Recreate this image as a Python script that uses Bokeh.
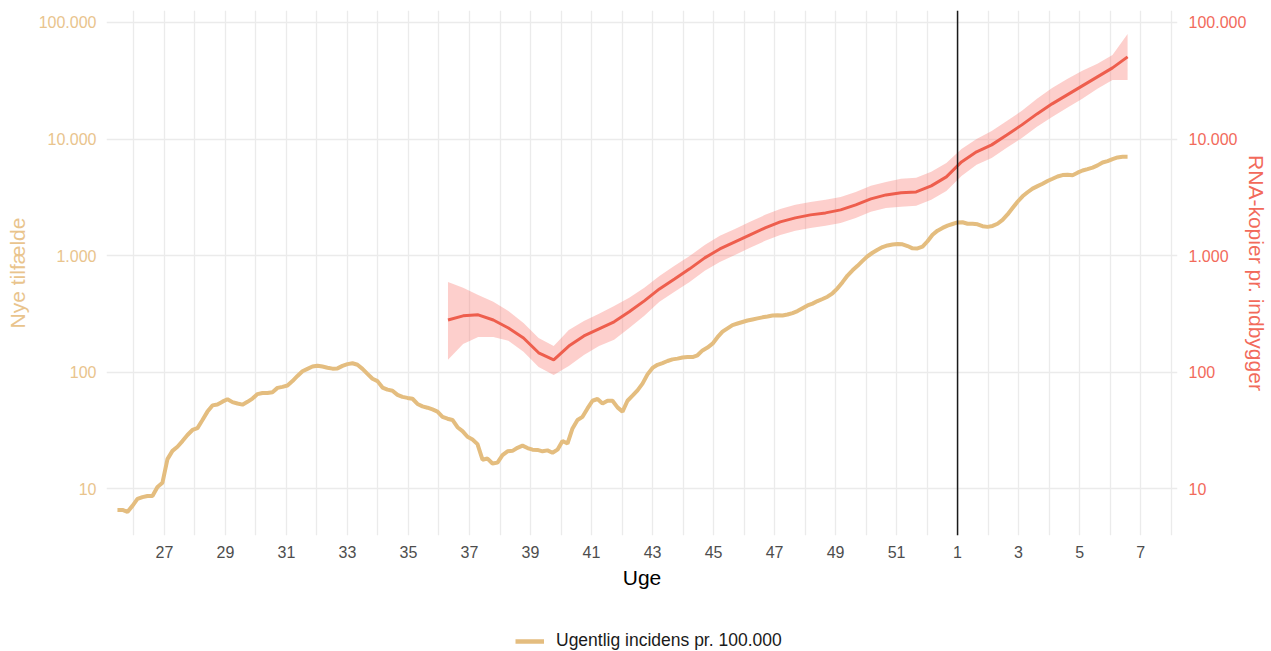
import numpy as np
from bokeh.plotting import figure
from bokeh.layouts import column
from bokeh.models import (Range1d, FixedTicker, LogAxis, CustomJSTickFormatter,
                          Span, Legend, LegendItem, ColumnDataSource)
from bokeh.embed import file_html
from bokeh.resources import INLINE

# ---------------- data ----------------
# weekly incidence per 100.000 (tan), sampled regularly from week ~25.5 to week 7 (=59)
tan_start_week = 25.459
tan_step_week = 0.16393
tan_values = [
    6.6, 6.6, 6.35, 7.15, 8.2, 8.5, 8.7, 8.7, 10.4, 11.3,
    18.0, 21.2, 23.0, 25.7, 29.0, 32.0, 33.2, 39.0, 46.0, 52.0,
    53.0, 56.0, 58.8, 55.5, 54.0, 52.8, 55.8, 59.5, 65.0, 66.5,
    66.5, 67.5, 73.5, 75.0, 77.0, 84.0, 93.0, 102, 107, 112,
    114, 112, 109.5, 107.5, 108, 113.5, 117.5, 119.5, 116, 107,
    97, 88, 84, 74, 71, 69.5, 64, 61.5, 60.3, 59.3,
    53.5, 51, 49.7, 48, 46, 41.5, 40, 39, 33.8, 31.3,
    28, 26.5, 24.2, 17.8, 18.2, 16.5, 16.8, 19.5, 21.0, 21.2,
    22.5, 23.5, 22.4, 21.7, 21.6, 21, 21.4, 20.4, 21.7, 25.8,
    24.5, 33, 39, 41.5, 49, 57, 59, 54, 57, 57,
    50, 46, 57, 63, 70, 80, 96, 109, 116, 120,
    125, 129, 131, 134, 135, 135, 140, 154, 163, 176,
    200, 223, 238, 254, 262, 270, 278, 284, 290, 296,
    301, 307, 308, 307, 313, 322, 335, 354, 374, 388,
    408, 425, 445, 476, 525, 593, 676, 750, 819, 903,
    989, 1060, 1125, 1185, 1224, 1248, 1262, 1252, 1210, 1157,
    1155, 1195, 1330, 1510, 1640, 1730, 1810, 1870, 1930, 1935,
    1880, 1880, 1860, 1790, 1767, 1800, 1880, 2030, 2260, 2560,
    2900, 3230, 3500, 3760, 3950, 4140, 4370, 4570, 4780, 4910,
    4950, 4900, 5150, 5380, 5530, 5700, 5950, 6300, 6480, 6740,
    6960, 7040, 7040,
]

# RNA copies per inhabitant (red) with confidence band
rna_start_week = 36.295
rna_end_week = 58.574
rna_mid = [281, 305, 311, 281, 240, 197, 147, 128, 168, 205,
           236, 271, 330, 410, 519, 632, 771, 958, 1143, 1313,
           1508, 1730, 1950, 2109, 2239, 2328, 2472, 2729, 3069, 3322,
           3458, 3524, 3970, 4742, 6370, 7770, 8920, 10860, 13240, 16450,
           20050, 23940, 28590, 34140, 40800, 50700]
rna_hi = [596, 530, 461, 402, 336, 265, 197, 168, 231, 276,
          317, 371, 435, 530, 671, 818, 996, 1238, 1479, 1698,
          1950, 2239, 2518, 2729, 2892, 3011, 3193, 3524, 3970, 4295,
          4560, 4650, 5235, 6250, 8240, 10040, 11750, 14320, 17460, 22130,
          27480, 32820, 38460, 44160, 52720, 79830]
rna_lo = [128, 175, 201, 201, 186, 150, 111, 95, 113, 141,
          168, 190, 240, 305, 402, 490, 596, 741, 885, 1016,
          1167, 1340, 1508, 1633, 1730, 1802, 1910, 2109, 2376, 2570,
          2624, 2675, 3011, 3594, 4831, 6010, 6900, 8410, 10240, 12730,
          15490, 18530, 22130, 26970, 32190, 32190]

week_ticks = [27, 29, 31, 33, 35, 37, 39, 41, 43, 45, 47, 49, 51, 53, 55, 57, 59]
week_tick_labels = ["27", "29", "31", "33", "35", "37", "39", "41", "43", "45",
                     "47", "49", "51", "1", "3", "5", "7"]
new_year_week = 53
y_ticks = [10, 100, 1000, 10000, 100000]
legend_label = "Ugentlig incidens pr. 100.000"

# ---------------- build ----------------
tan_weeks = tan_start_week + tan_step_week * np.arange(len(tan_values))
rna_weeks = np.linspace(rna_start_week, rna_end_week, len(rna_mid))

TAN = "#E4BD7F"
TAN_TXT = "#E9C48D"
RED = "#EE5E4D"
RED_TXT = "#F26A5B"
FONT = "Liberation Sans"

p = figure(width=1271, height=600, output_backend="svg", toolbar_location=None,
           y_axis_type="log",
           x_range=Range1d(25.10, 60.21), y_range=Range1d(3.984, 126700),
           min_border_left=106, min_border_right=94, min_border_top=10, min_border_bottom=65)
p.outline_line_color = None
p.background_fill_color = "white"
p.border_fill_color = "white"

fmt = CustomJSTickFormatter(code=r"""
return Math.round(tick).toString().replace(/\B(?=(\d{3})+(?!\d))/g, '.');
""")

# grids
p.xgrid.ticker = FixedTicker(ticks=list(range(26, 61)))
p.xgrid.grid_line_color = "#EBEBEB"
p.xgrid.grid_line_width = 1.3
p.ygrid.ticker = FixedTicker(ticks=y_ticks)
p.ygrid.grid_line_color = "#EBEBEB"
p.ygrid.grid_line_width = 1.3
p.ygrid.minor_grid_line_color = None


def style_axis(ax, color, standoff, label, label_color, label_standoff):
    ax.axis_line_color = None
    ax.major_tick_line_color = None
    ax.minor_tick_line_color = None
    ax.major_tick_out = 0
    ax.major_tick_in = 0
    ax.minor_tick_out = 0
    ax.minor_tick_in = 0
    ax.major_label_text_font = FONT
    ax.major_label_text_font_size = "16px"
    ax.major_label_text_color = color
    ax.major_label_standoff = standoff
    ax.axis_label = label
    ax.axis_label_text_font = FONT
    ax.axis_label_text_font_style = "normal"
    ax.axis_label_text_font_size = "21px"
    ax.axis_label_text_color = label_color
    ax.axis_label_standoff = label_standoff


# x axis
xa = p.xaxis[0]
xa.ticker = FixedTicker(ticks=week_ticks)
xa.major_label_overrides = {t: l for t, l in zip(week_ticks, week_tick_labels)}
style_axis(xa, "#4D4D4D", 10, "Uge", "#000000", 5)

# left axis
ya = p.yaxis[0]
ya.ticker = FixedTicker(ticks=y_ticks)
ya.formatter = fmt
style_axis(ya, TAN_TXT, 10, "Nye tilfælde", TAN_TXT, 7)

# right axis
ra = LogAxis(ticker=FixedTicker(ticks=y_ticks), formatter=fmt)
style_axis(ra, RED_TXT, 11, "RNA-kopier pr. indbygger", RED_TXT, -4)
p.add_layout(ra, "right")

# band + red line
rna_src = ColumnDataSource(dict(x=rna_weeks, mid=rna_mid, lo=rna_lo, hi=rna_hi))
p.varea(x="x", y1="lo", y2="hi", source=rna_src, fill_color="#F8766D", fill_alpha=0.35)
p.line(x="x", y="mid", source=rna_src, line_color=RED, line_width=3)

# tan line
tan_src = ColumnDataSource(dict(x=tan_weeks, y=tan_values))
p.line(x="x", y="y", source=tan_src, line_color=TAN, line_width=4)

# new-year marker
p.add_layout(Span(location=new_year_week, dimension="height", line_color="#1A1A1A", line_width=1.5))

# legend strip below the plot (its frame is aligned with the main frame)
lf = figure(width=1271, height=51, output_backend="svg", toolbar_location=None,
            x_range=Range1d(0, 1), y_range=Range1d(0, 1),
            x_axis_location=None, y_axis_location=None, min_border=0)
lf.outline_line_color = None
lf.grid.visible = False
key = lf.line(x="x", y="y", source=tan_src, line_color=TAN, line_width=4.5)  # out of view; used for the key only
legend = Legend(items=[LegendItem(label=legend_label, renderers=[key])],
                location=(409, 0), orientation="horizontal", padding=0, margin=0,
                border_line_color=None, background_fill_alpha=0,
                label_text_font=FONT, label_text_font_size="17.5px", label_text_color="#1A1A1A",
                glyph_width=29, glyph_height=20, label_height=20, label_standoff=12)
lf.add_layout(legend, "center")

layout = column(p, lf, spacing=0)
open("out.html", "w").write(file_html(layout, INLINE))
